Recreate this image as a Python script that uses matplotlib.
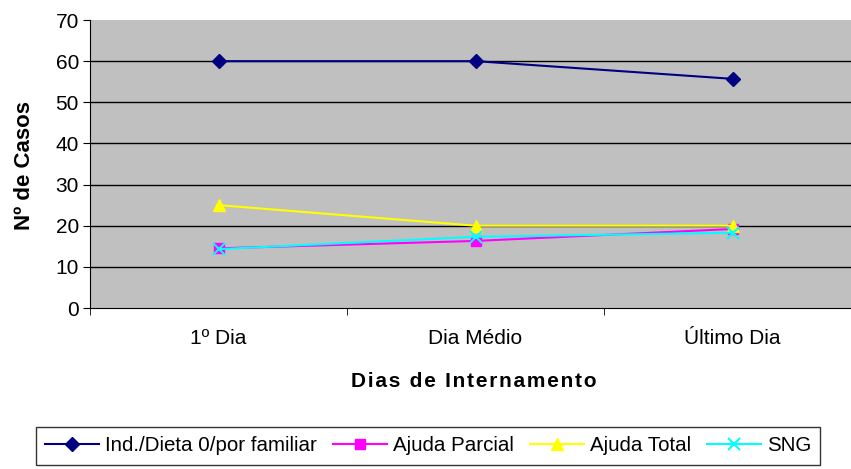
import matplotlib.pyplot as plt
import numpy as np

plt.rcParams['font.family'] = ['Liberation Sans', 'DejaVu Sans']

# Data
dias = ["1º Dia", "Dia Médio", "Último Dia"]
ind_dieta = [60, 60, 55.7]
ajuda_parcial = [14.5, 16.3, 19.2]
ajuda_total = [25, 20, 20]
sng = [14.3, 17.3, 18.3]

W, H = 851, 469
fig = plt.figure(figsize=(W / 100, H / 100), dpi=100)
ax = fig.add_axes([90 / W, 1 - 308 / H, 771 / W, 288 / H])
ax.set_facecolor("#C0C0C0")

x = np.arange(len(dias)) + 0.5
ax.plot(x, ind_dieta, color="#000080", marker="D", markersize=7, lw=1.5,
        label="Ind./Dieta 0/por familiar")
ax.plot(x, ajuda_parcial, color="#FF00FF", marker="s", markersize=7, lw=1.5,
        label="Ajuda Parcial")
ax.plot(x, ajuda_total, color="#FFFF00", marker="^", markersize=8, lw=1.5,
        label="Ajuda Total")
ax.plot(x, sng, color="#00FFFF", marker="x", markersize=8, mew=1.5, lw=1.5,
        label="SNG")

ax.set_xlim(0, 3)
ax.set_ylim(0, 70)
ax.set_yticks(range(0, 71, 10))
for v in range(10, 70, 10):
    ax.axhline(v, color="black", lw=1, zorder=0.5)

ax.set_xticks(x)
ax.set_xticklabels(dias)
ax.set_xticks([0, 1, 2, 3], minor=True)
ax.tick_params(axis="x", which="major", length=0, pad=15, labelsize=15)
ax.tick_params(axis="x", which="minor", length=5, direction="out")
ax.tick_params(axis="y", length=5, direction="out", labelsize=15, pad=3)

for s in ["top", "right"]:
    ax.spines[s].set_visible(False)
ax.spines["left"].set_color("black")
ax.spines["bottom"].set_color("black")

fig.text(474 / W, 1 - 381 / H, "\u200a".join("Dias de Internamento"),
         fontsize=15, fontweight="bold", ha="center", va="center")
fig.text(25 / W, 1 - 165 / H, "Nº de Casos", fontsize=16, fontweight="bold",
         rotation=90, ha="center", va="center")

leg = fig.legend(loc="upper left", bbox_to_anchor=(36 / W, 1 - 427 / H), ncol=4,
                 fontsize=14.8, frameon=True, fancybox=False, edgecolor="black",
                 handlelength=2.6, columnspacing=0.8, handletextpad=0.3,
                 borderpad=0.45, borderaxespad=0)
leg.get_frame().set_linewidth(1)

fig.savefig("out.png", dpi=100)
